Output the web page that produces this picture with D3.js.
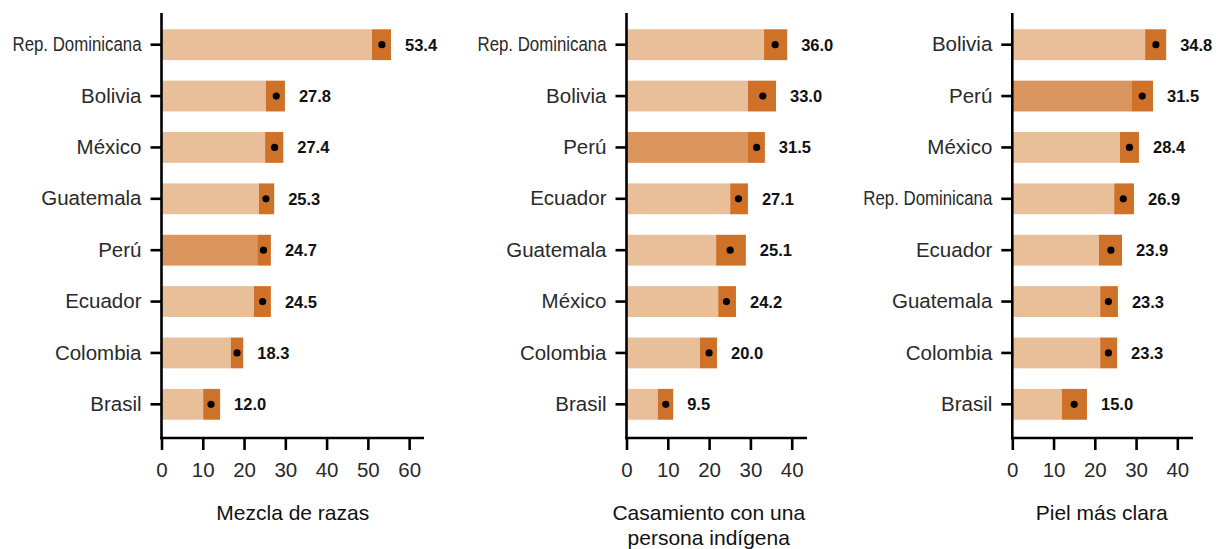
<!DOCTYPE html>
<html><head><meta charset="utf-8">
<script src="https://cdn.jsdelivr.net/npm/d3@7"></script>
<style>
body{margin:0;background:#fff;}
svg text{font-family:"Liberation Sans",Arial,sans-serif;}
</style></head>
<body><svg id="c" width="1216" height="549"></svg>
<script>
// ---- data ----
const razasCountries = ["Rep. Dominicana","Bolivia","México","Guatemala","Perú","Ecuador","Colombia","Brasil"];
const razasValues = [53.4,27.8,27.4,25.3,24.7,24.5,18.3,12.0];
const razasLow  = [51.0,25.3,25.1,23.6,23.2,22.4,16.8,10.1];
const razasHigh = [55.6,29.9,29.5,27.3,26.5,26.5,19.8,14.2];

const casamientoCountries = ["Rep. Dominicana","Bolivia","Perú","Ecuador","Guatemala","México","Colombia","Brasil"];
const casamientoValues = [36.0,33.0,31.5,27.1,25.1,24.2,20.0,9.5];
const casamientoLow  = [33.3,29.4,29.4,25.1,21.7,22.2,17.8,7.6];
const casamientoHigh = [38.9,36.2,33.5,29.4,28.9,26.5,21.9,11.3];

const pielCountries = ["Bolivia","Perú","México","Rep. Dominicana","Ecuador","Guatemala","Colombia","Brasil"];
const pielValues = [34.8,31.5,28.4,26.9,23.9,23.3,23.3,15.0];
const pielLow  = [32.2,29.0,26.1,24.7,21.0,21.3,21.3,12.0];
const pielHigh = [37.3,34.1,30.7,29.5,26.6,25.6,25.4,18.1];

const razasTicks = [0,10,20,30,40,50,60];
const smallTicks = [0,10,20,30,40];
const highlight = "Perú";

const panels = [
  {countries: razasCountries, values: razasValues, low: razasLow, high: razasHigh, ticks: razasTicks,
   max: 63.6, x0: 161.5, x1: 424, titleShift: 0, title: ["Mezcla de razas"]},
  {countries: casamientoCountries, values: casamientoValues, low: casamientoLow, high: casamientoHigh, ticks: smallTicks,
   max: 43.7, x0: 626.5, x1: 807, titleShift: -8, title: ["Casamiento con una","persona indígena"]},
  {countries: pielCountries, values: pielValues, low: pielLow, high: pielHigh, ticks: smallTicks,
   max: 43.8, x0: 1012.3, x1: 1193, titleShift: -1, title: ["Piel más clara"]}
];

const LIGHT = "#e8bf98", MID = "#da955e", DARK = "#cf7229";
const svg = d3.select("#c");
const yTop = 13, yBottom = 438;

panels.forEach(p => {
  const x = d3.scaleLinear().domain([0, p.max]).range([p.x0, p.x1]);
  const y = d3.scaleBand().domain(p.countries).range([19, 430]).paddingInner(0.4).paddingOuter(0.2);
  const g = svg.append("g");
  const rows = p.countries.map((c,i)=>({c, v:p.values[i], lo:p.low[i], hi:p.high[i]}));

  g.selectAll("rect.l").data(rows).join("rect")
    .attr("x", x(0)).attr("y", d=>y(d.c)).attr("height", y.bandwidth())
    .attr("width", d=>x(d.lo)-x(0))
    .attr("fill", d=>d.c===highlight?MID:LIGHT);
  g.selectAll("rect.d").data(rows).join("rect")
    .attr("x", d=>x(d.lo)).attr("y", d=>y(d.c)).attr("height", y.bandwidth())
    .attr("width", d=>x(d.hi)-x(d.lo)).attr("fill", DARK);
  g.selectAll("circle").data(rows).join("circle")
    .attr("cx", d=>x(d.v)).attr("cy", d=>y(d.c)+y.bandwidth()/2).attr("r",3.6).attr("fill","#000");
  g.selectAll("text.v").data(rows).join("text")
    .attr("x", d=>x(d.hi)+14).attr("y", d=>y(d.c)+y.bandwidth()/2)
    .attr("dy","0.36em").attr("font-size",16.5).attr("font-weight","bold").attr("fill","#111")
    .text(d=>d.v.toFixed(1));

  // y axis
  const ya = g.append("g").attr("transform",`translate(${x(0)},0)`)
    .call(d3.axisLeft(y).tickSize(11).tickPadding(9));
  ya.select(".domain").remove();
  ya.selectAll(".tick line").attr("stroke","#000").attr("stroke-width",2.6);
  ya.selectAll(".tick text").attr("font-size",20.5).attr("fill","#2a2a2a").attr("font-family",null)
    .each(function(d){ if(d==="Rep. Dominicana"){ d3.select(this).attr("textLength",129).attr("lengthAdjust","spacingAndGlyphs"); }});
  g.append("line").attr("x1",x(0)).attr("x2",x(0)).attr("y1",yTop).attr("y2",yBottom+1.3)
    .attr("stroke","#000").attr("stroke-width",2.6);

  // x axis
  const xa = g.append("g").attr("transform",`translate(0,${yBottom})`)
    .call(d3.axisBottom(x).tickValues(p.ticks).tickSize(12).tickPadding(12).tickFormat(d3.format("d")));
  xa.select(".domain").remove();
  xa.selectAll(".tick line").attr("stroke","#000").attr("stroke-width",2.6);
  xa.selectAll(".tick text").attr("font-size",20.5).attr("fill","#2a2a2a").attr("font-family",null);
  g.append("line").attr("x1",x(0)-1.3).attr("x2",p.x1).attr("y1",yBottom).attr("y2",yBottom)
    .attr("stroke","#000").attr("stroke-width",2.6);

  const cx = (p.x0+p.x1)/2 + p.titleShift;
  const t = g.append("text").attr("x",cx).attr("y",520).attr("text-anchor","middle")
    .attr("font-size",21).attr("fill","#111");
  p.title.forEach((line,i)=> t.append("tspan").attr("x",cx).attr("dy", i===0?0:25).text(line));
});
</script></body></html>
